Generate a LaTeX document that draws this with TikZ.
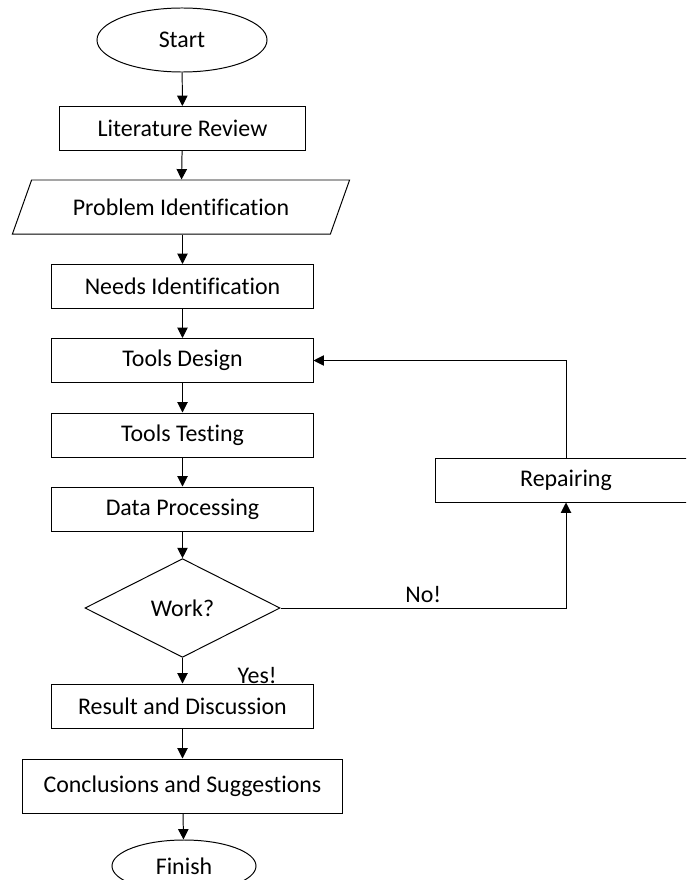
\documentclass[tikz,border=0pt]{standalone}
\usepackage{fontspec}
\setmainfont{Carlito}[Ligatures=NoCommon]
\usepackage{tikz}
\usetikzlibrary{shapes.geometric, arrows.meta, positioning}

\begin{document}
\begin{tikzpicture}[x=0.025cm, y=-0.025cm,
    font=\fontsize{17pt}{20pt}\selectfont,
    >={Triangle[length=2.6mm, width=2.6mm]},
    line width=0.7pt,
    box/.style={draw, rectangle, minimum width=6.525cm, minimum height=1.1cm},
    term/.style={draw, ellipse},
    io/.style={draw, trapezium, trapezium left angle=61, trapezium right angle=119, trapezium stretches=true},
    decision/.style={draw, diamond, minimum width=4.875cm, minimum height=2.25cm}]

    \useasboundingbox (0,0) rectangle (686,880);
    \clip (0,0) rectangle (686,880);

    \node[term, minimum width=4.25cm, minimum height=1.6cm] (start) at (182,40) {Start};
    \node[box, minimum width=6.15cm] (lit) at (182.5,128.5) {Literature Review};
    \node[io, minimum width=8.45cm, minimum height=1.35cm] (prob) at (181,207) {Problem Identification};
    \node[box] (needs) at (182.5,286.5) {Needs Identification};
    \node[box] (design) at (182.5,360.5) {Tools Design};
    \node[box] (testing) at (182.5,435) {Tools Testing};
    \node[box] (data) at (182.5,509) {Data Processing};
    \node[decision] (work) at (182.5,608) {Work?};
    \node[box] (result) at (182.5,706) {Result and Discussion};
    \node[box, minimum width=7.975cm, minimum height=1.35cm] (concl) at (182.5,786) {Conclusions and Suggestions};
    \node[term, minimum width=3.6cm, minimum height=1.3cm] (finish) at (184,866) {Finish};
    \node[box] (repair) at (566,480) {Repairing};

    \draw[->] (start) -- (lit);
    \draw[->] (lit) -- (prob);
    \draw[->] (prob.south -| needs.north) -- (needs);
    \draw[->] (needs) -- (design);
    \draw[->] (design) -- (testing);
    \draw[->] (testing) -- (data);
    \draw[->] (data) -- (work);
    \draw[->] (work) -- (result) node[pos=0.7, anchor=west, xshift=1.25cm] {Yes!};
    \draw[->] (result) -- (concl);
    \draw[->] (concl) -- (finish);

    \draw[->] (work.east) -| node[pos=0.25, above] {No!} (repair.south);
    \draw[->] (repair.north) |- (design.east);
\end{tikzpicture}
\end{document}
